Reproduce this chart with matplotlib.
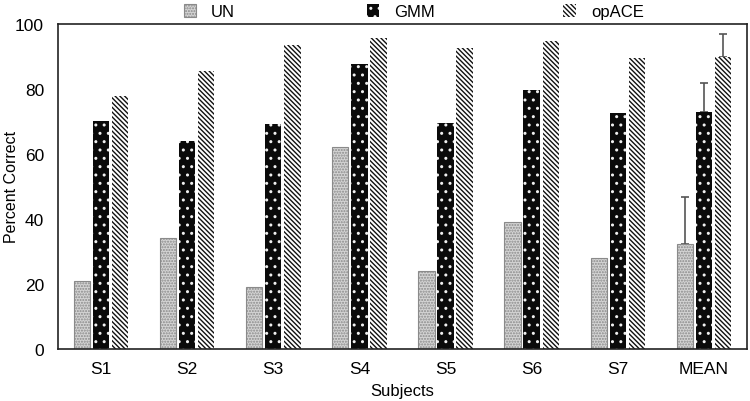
import numpy as np
from matplotlib import pyplot as plt
from matplotlib.patches import Patch

plt.rcParams['font.family'] = ['Liberation Sans', 'DejaVu Sans']
plt.rcParams['hatch.linewidth'] = 1.0

subjects = ['S1', 'S2', 'S3', 'S4', 'S5', 'S6', 'S7', 'MEAN']
un = [21, 34, 19, 62, 24, 39, 28, 32.2]
gmm = [70, 63.8, 69, 87.5, 69.5, 79.6, 72.5, 72.8]
opace = [77.6, 85.5, 93.5, 95.5, 92.5, 94.5, 89.3, 89.6]
# upper error bars on the MEAN group only
mean_err = [14.5, 9.0, 7.2]

fig = plt.figure(figsize=(7.5, 4.02), dpi=100)
ax = fig.add_axes([0.0773, 0.1294, 0.9187, 0.8096])

x = np.arange(len(subjects))
w = 0.19
step = 0.222

un_style = dict(facecolor='#d4d4d4', edgecolor='#8a8a8a', hatch='......', linewidth=0.8)
gmm_style = dict(facecolor='#0a0a0a', edgecolor='#f0f0f0', hatch='..', linewidth=0)
opace_style = dict(facecolor='white', edgecolor='#111111', hatch='\\\\\\\\\\\\\\', linewidth=0)

ax.bar(x - step, un, w, zorder=2, **un_style)
ax.bar(x, gmm, w, zorder=2, **gmm_style)
ax.bar(x + step, opace, w, zorder=2, **opace_style)

# drawn under the bars so the lower caps stay hidden
m = len(subjects) - 1
ax.errorbar([m - step, m, m + step], [un[m], gmm[m], opace[m]],
            yerr=[[0, 0, 0], mean_err], fmt='none', ecolor='#555555',
            elinewidth=1.2, capsize=3, capthick=1.2, zorder=1)

ax.set_xlim(-0.5, len(subjects) - 0.5)
ax.set_ylim(0, 100)
ax.set_yticks([0, 20, 40, 60, 80, 100])
ax.set_xticks(x)
ax.set_xticklabels(subjects)
ax.tick_params(length=0, labelsize=12.5, pad=10)
ax.tick_params(axis='x', pad=9)
for s in ax.spines.values():
    s.set_linewidth(1.2)
    s.set_color('#222222')
    s.set_zorder(3)

ax.set_xlabel('Subjects', fontsize=12)
ax.set_ylabel('Percent Correct', fontsize=11.5)
ax.xaxis.set_label_coords(0.5, -0.103)
ax.yaxis.set_label_coords(-0.056, 0.5)

# legend entries sit on one row above the axes
entries = [('UN', un_style, 0.245), ('GMM', gmm_style, 0.489), ('opACE', opace_style, 0.751)]
for name, style, xpos in entries:
    fig.legend([Patch(**style)], [name], loc='center left', bbox_to_anchor=(xpos, 0.968),
               frameon=False, fontsize=12, handlelength=0.75, handleheight=0.75,
               handletextpad=0.9, borderpad=0, borderaxespad=0)

fig.savefig('out.png', dpi=100)
